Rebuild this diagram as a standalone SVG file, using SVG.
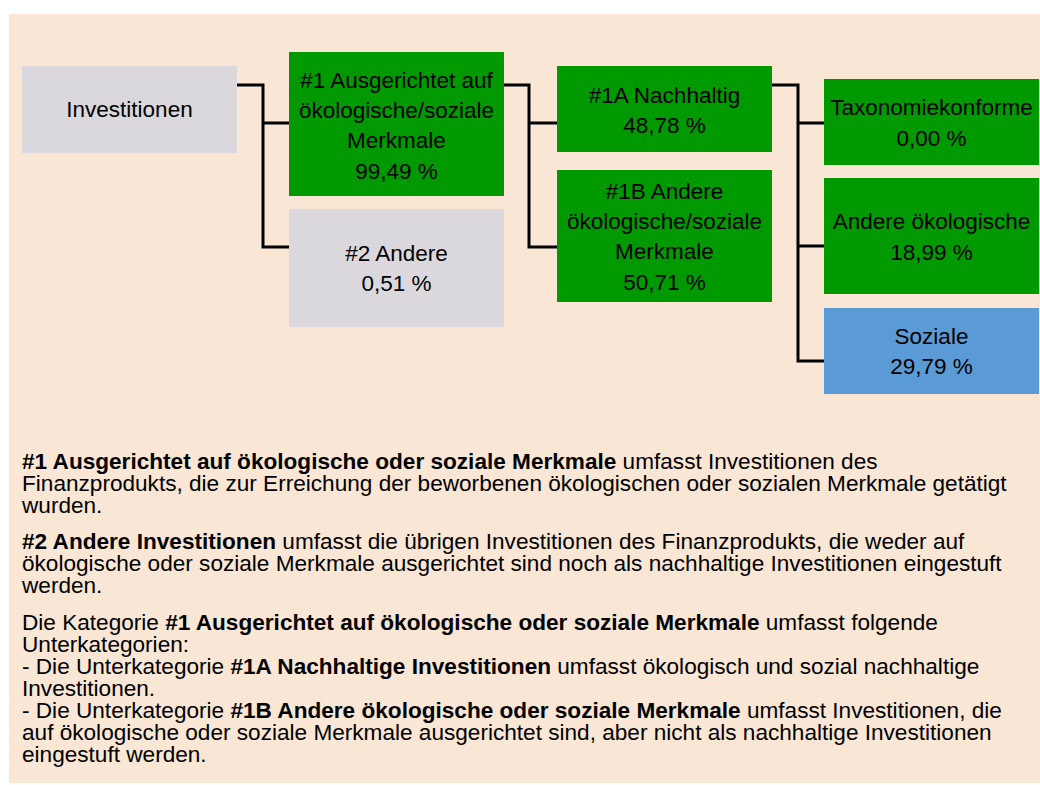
<svg xmlns="http://www.w3.org/2000/svg" width="1040" height="785" viewBox="0 0 1040 785">
<style>
.t{font-family:"Liberation Sans",Arial,sans-serif;font-size:22.5px;fill:#000;text-anchor:middle}
.p{font-family:"Liberation Sans",Arial,sans-serif;font-size:22.6px;fill:#000}
.b{font-weight:bold}
.gray{fill:#DAD7DD}
.green{fill:#009900}
.blue{fill:#5B9BD5}
.c{fill:none;stroke:#000;stroke-width:3}
</style>
<rect x="0" y="0" width="1040" height="785" fill="#fff"/>
<rect x="9" y="14" width="1031" height="769" fill="#F9E6D4"/>
<g id="connectors">
<path class="c" d="M237 85H263V247H289M263 123H289"/>
<path class="c" d="M504 85H529V247H557M529 123H557"/>
<path class="c" d="M772 85H798V361H824M798 123H824M798 246H824"/>
</g>
<g id="n-invest"><rect class="gray" x="22" y="66" width="215" height="87"/><text class="t" x="129.5" y="117">Investitionen</text></g>
<g id="n-1"><rect class="green" x="289" y="52" width="215" height="144"/><text class="t" x="396.5" y="88">#1 Ausgerichtet auf</text><text class="t" x="396.5" y="118">ökologische/soziale</text><text class="t" x="396.5" y="148">Merkmale</text><text class="t" x="396.5" y="179">99,49 %</text></g>
<g id="n-2"><rect class="gray" x="289" y="209" width="215" height="118"/><text class="t" x="396.5" y="261">#2 Andere</text><text class="t" x="396.5" y="291">0,51 %</text></g>
<g id="n-1a"><rect class="green" x="557" y="66" width="215" height="86"/><text class="t" x="664.5" y="103">#1A Nachhaltig</text><text class="t" x="664.5" y="133">48,78 %</text></g>
<g id="n-1b"><rect class="green" x="557" y="170" width="215" height="132"/><text class="t" x="664.5" y="199">#1B Andere</text><text class="t" x="664.5" y="229">ökologische/soziale</text><text class="t" x="664.5" y="259">Merkmale</text><text class="t" x="664.5" y="290">50,71 %</text></g>
<g id="n-tax"><rect class="green" x="824" y="79" width="215" height="86"/><text class="t" x="931.5" y="115">Taxonomiekonforme</text><text class="t" x="931.5" y="146">0,00 %</text></g>
<g id="n-andere"><rect class="green" x="824" y="178" width="215" height="116"/><text class="t" x="931.5" y="229">Andere ökologische</text><text class="t" x="931.5" y="260">18,99 %</text></g>
<g id="n-soz"><rect class="blue" x="824" y="308" width="215" height="86"/><text class="t" x="931.5" y="344">Soziale</text><text class="t" x="931.5" y="374">29,79 %</text></g>
<g id="legend">
<text class="p" x="22" y="469"><tspan class="b">#1 Ausgerichtet auf ökologische oder soziale Merkmale</tspan> umfasst Investitionen des</text>
<text class="p" x="22" y="491">Finanzprodukts, die zur Erreichung der beworbenen ökologischen oder sozialen Merkmale getätigt</text>
<text class="p" x="22" y="513">wurden.</text>
<text class="p" x="22" y="549"><tspan class="b">#2 Andere Investitionen</tspan> umfasst die übrigen Investitionen des Finanzprodukts, die weder auf</text>
<text class="p" x="22" y="571">ökologische oder soziale Merkmale ausgerichtet sind noch als nachhaltige Investitionen eingestuft</text>
<text class="p" x="22" y="593">werden.</text>
<text class="p" x="22" y="630">Die Kategorie <tspan class="b">#1 Ausgerichtet auf ökologische oder soziale Merkmale</tspan> umfasst folgende</text>
<text class="p" x="22" y="652">Unterkategorien:</text>
<text class="p" x="22" y="674">- Die Unterkategorie <tspan class="b">#1A Nachhaltige Investitionen</tspan> umfasst ökologisch und sozial nachhaltige</text>
<text class="p" x="22" y="696">Investitionen.</text>
<text class="p" x="22" y="718">- Die Unterkategorie <tspan class="b">#1B Andere ökologische oder soziale Merkmale</tspan> umfasst Investitionen, die</text>
<text class="p" x="22" y="740">auf ökologische oder soziale Merkmale ausgerichtet sind, aber nicht als nachhaltige Investitionen</text>
<text class="p" x="22" y="762">eingestuft werden.</text>
</g>
</svg>
